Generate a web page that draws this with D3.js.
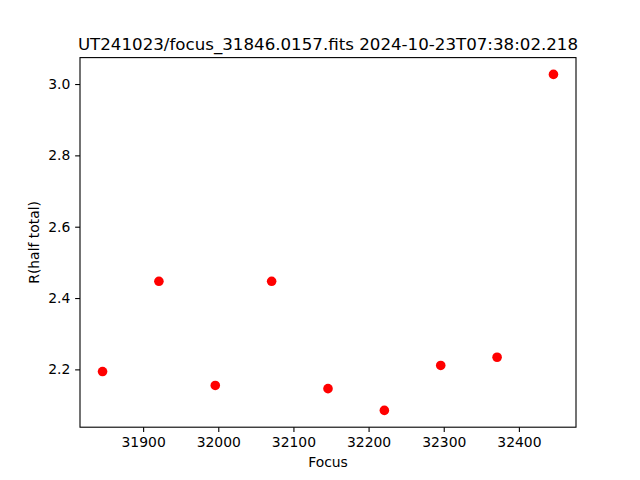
<!DOCTYPE html>
<html><head><meta charset="utf-8">
<script src="https://cdn.jsdelivr.net/npm/d3@7"></script>
<style>body{margin:0;background:#fff}</style>
</head><body>
<script>
const focus = [31846, 31921, 31996, 32071, 32146, 32221, 32296, 32371, 32446];
const rHalf = [2.194, 2.447, 2.155, 2.447, 2.146, 2.085, 2.211, 2.234, 3.027];
const xTicks = [31900, 32000, 32100, 32200, 32300, 32400];
const yTicks = [2.2, 2.4, 2.6, 2.8, 3.0];
const title = "UT241023/focus_31846.0157.fits 2024-10-23T07:38:02.218";

const W = 640, H = 480;
const L = 80, R = 576, T = 57.6, B = 427.2;
const font = "DejaVu Sans, sans-serif";

const svg = d3.select("body").append("svg").attr("width", W).attr("height", H);
svg.append("rect").attr("width", W).attr("height", H).attr("fill", "#fff");

function pad(ext){ const d = ext[1]-ext[0]; return [ext[0]-0.05*d, ext[1]+0.05*d]; }
const x = d3.scaleLinear().domain(pad(d3.extent(focus))).range([L, R]);
const y = d3.scaleLinear().domain(pad(d3.extent(rHalf))).range([B, T]);

const xAxis = d3.axisBottom(x).tickValues(xTicks).tickFormat(d3.format("d")).tickSizeInner(4.86).tickSizeOuter(0).tickPadding(4.86);
const yAxis = d3.axisLeft(y).tickValues(yTicks).tickFormat(d3.format(".1f")).tickSizeInner(4.86).tickSizeOuter(0).tickPadding(4.86);

const gx = svg.append("g").attr("transform", `translate(0,${B})`).call(xAxis);
const gy = svg.append("g").attr("transform", `translate(${L},0)`).call(yAxis);
[gx, gy].forEach(g => {
  g.select(".domain").remove();
  g.selectAll("line").attr("stroke", "#000").attr("stroke-width", 1.1);
  g.selectAll("text").attr("font-family", font).attr("font-size", "13.9px").attr("fill", "#000");
});

svg.append("rect").attr("x", L).attr("y", T).attr("width", R-L).attr("height", B-T)
  .attr("fill", "none").attr("stroke", "#000").attr("stroke-width", 1.1);

svg.append("g").selectAll("circle").data(focus).join("circle")
  .attr("cx", (d,i) => x(d)).attr("cy", (d,i) => y(rHalf[i])).attr("r", 4.8).attr("fill", "#ff0000");

svg.append("text").attr("x", (L+R)/2).attr("y", 49.5).attr("text-anchor", "middle")
  .attr("font-family", font).attr("font-size", "16.67px").attr("fill", "#000").text(title);
svg.append("text").attr("x", (L+R)/2).attr("y", 467).attr("text-anchor", "middle")
  .attr("font-family", font).attr("font-size", "13.9px").attr("fill", "#000").text("Focus");
svg.append("text").attr("transform", `translate(39,${(T+B)/2}) rotate(-90)`).attr("text-anchor", "middle")
  .attr("font-family", font).attr("font-size", "13.9px").attr("fill", "#000").text("R(half total)");
</script>
</body></html>
